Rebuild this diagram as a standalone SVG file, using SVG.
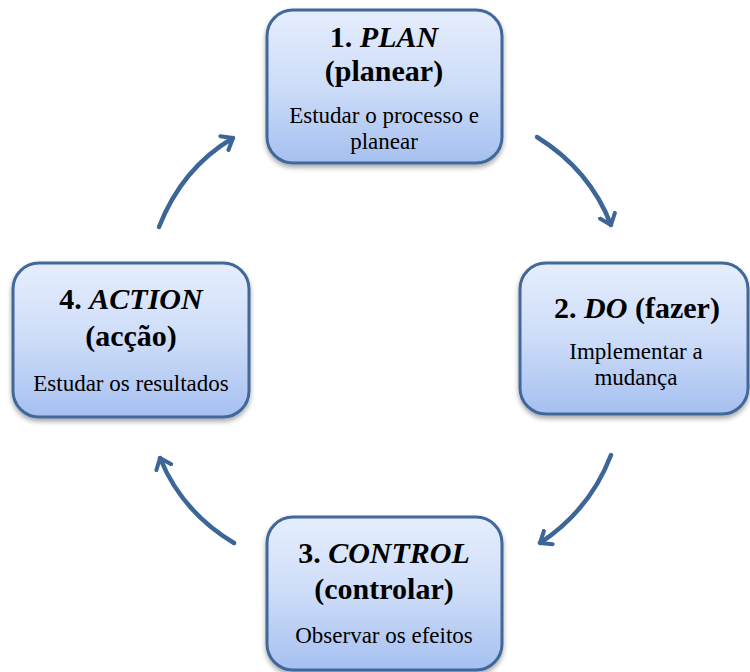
<svg xmlns="http://www.w3.org/2000/svg" width="750" height="672" viewBox="0 0 750 672">
<defs>
<linearGradient id="g" x1="0" y1="0" x2="0" y2="1">
<stop offset="0" stop-color="#e6eefd"/>
<stop offset="0.5" stop-color="#cddcf8"/>
<stop offset="1" stop-color="#a5c0f0"/>
</linearGradient>
<filter id="sh" x="-10%" y="-10%" width="120%" height="130%">
<feDropShadow dx="0" dy="3" stdDeviation="2.5" flood-color="#000" flood-opacity="0.35"/>
</filter>
<marker id="ah" viewBox="-12 -10 14 20" markerWidth="14" markerHeight="20" refX="0" refY="0" orient="auto" markerUnits="userSpaceOnUse">
<path d="M-10,-8 L0,0 L-10,8" fill="none" stroke="#3c6598" stroke-width="4" stroke-linecap="round" stroke-linejoin="round"/>
</marker>
</defs>
<style>
.box{fill:url(#g);stroke:#41679a;stroke-width:3;filter:url(#sh)}
.t{font-family:"Liberation Serif",serif;font-weight:bold;font-size:30px;fill:#000;text-anchor:middle}
.b{font-family:"Liberation Serif",serif;font-size:23px;fill:#000;text-anchor:middle}
.c{fill:none;stroke:#3c6598;stroke-width:4.5;stroke-linecap:round}
</style>
<rect width="750" height="672" fill="#fff"/>
<g id="connectors">
<path class="c" d="M537,137 Q590,170 611,225" marker-end="url(#ah)"/>
<path class="c" d="M611,455 Q590,510 540,543" marker-end="url(#ah)"/>
<path class="c" d="M234,543 Q182,512 160,458" marker-end="url(#ah)"/>
<path class="c" d="M159,227 Q182,168 233,138" marker-end="url(#ah)"/>
</g>
<g id="plan">
<rect class="box" x="267" y="10" width="235" height="153" rx="26"/>
<text class="t" x="384" y="47">1. <tspan font-style="italic">PLAN</tspan></text>
<text class="t" x="384" y="81">(planear)</text>
<text class="b" x="384" y="123">Estudar o processo e</text>
<text class="b" x="384" y="149">planear</text>
</g>
<g id="do">
<rect class="box" x="520" y="263" width="228" height="151" rx="26"/>
<text class="t" x="637" y="318">2. <tspan font-style="italic">DO</tspan> (fazer)</text>
<text class="b" x="636" y="359">Implementar a</text>
<text class="b" x="636" y="385">mudança</text>
</g>
<g id="control">
<rect class="box" x="267" y="517" width="235" height="153" rx="26"/>
<text class="t" x="384" y="563">3. <tspan font-style="italic">CONTROL</tspan></text>
<text class="t" x="384" y="599">(controlar)</text>
<text class="b" x="384" y="643">Observar os efeitos</text>
</g>
<g id="action">
<rect class="box" x="13" y="263" width="236" height="154" rx="26"/>
<text class="t" x="131" y="309">4. <tspan font-style="italic">ACTION</tspan></text>
<text class="t" x="131" y="346">(acção)</text>
<text class="b" x="131" y="391">Estudar os resultados</text>
</g>
</svg>
